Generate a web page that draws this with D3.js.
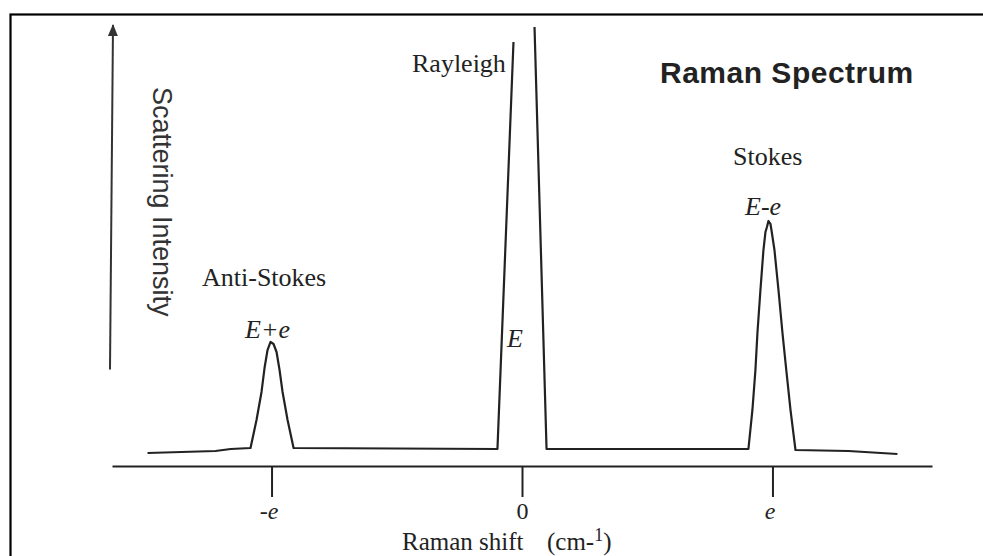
<!DOCTYPE html>
<html>
<head>
<meta charset="utf-8">
<script src="https://cdn.jsdelivr.net/npm/d3@7"></script>
<style>
  html, body { margin: 0; padding: 0; background: #fff; }
  svg { display: block; }
</style>
</head>
<body>
<svg id="chart" width="983" height="556"></svg>
<script>
// Raman shift in units of e, intensity in arbitrary units (0-100)
// Left branch: baseline, anti-Stokes peak, baseline, left arm of Rayleigh
const leftShift = [-1.495, -1.224, -1.163, -1.084, -1.060, -1.040, -1.028, -1.016, -1.004,
  -0.992, -0.980, -0.968, -0.956, -0.936, -0.912, -0.098, -0.034];
const leftIntensity = [2.96, 3.42, 3.87, 4.10, 10.48, 16.86, 22.32, 26.42, 28.25,
  27.79, 25.97, 21.87, 16.86, 10.48, 4.10, 3.87, 96.6];

// Right branch: right arm of Rayleigh, baseline, Stokes peak, tail
const rightShift = [0.050, 0.098, 0.904, 0.920, 0.932, 0.940, 0.952, 0.964, 0.972, 0.978,
  0.984, 0.992, 0.996, 1.008, 1.024, 1.040, 1.056, 1.072, 1.092, 1.303, 1.499];
const rightIntensity = [100, 3.87, 3.87, 12.76, 21.87, 30.30, 40.09, 49.20, 53.30, 54.44,
  55.81, 55.13, 53.76, 49.20, 40.09, 30.30, 21.41, 12.76, 3.64, 3.42, 2.73];

const tickValues = [-1, 0, 1];
const tickLabels = ['-e', '0', 'e'];
const tickItalic = [true, false, true];

const serif = '"Liberation Serif", "Times New Roman", serif';
const sans = '"Liberation Sans", Arial, sans-serif';
const ink = '#222';

const svg = d3.select('#chart');

const x = d3.scaleLinear().domain([-1.637, 1.637]).range([112, 932]);
const y = d3.scaleLinear().domain([0, 100]).range([466, 27]);

// frame border (runs off the right and bottom edges)
svg.append('rect')
    .attr('x', 10.5).attr('y', 14.5)
    .attr('width', 1000).attr('height', 600)
    .attr('fill', 'none')
    .attr('stroke', '#000')
    .attr('stroke-width', 2.2);

// x axis
const xAxis = d3.axisBottom(x)
    .tickValues(tickValues)
    .tickSize(31)
    .tickSizeOuter(0)
    .tickFormat((d, i) => tickLabels[i]);

const axisG = svg.append('g')
    .attr('transform', `translate(0,${y(0)})`)
    .call(xAxis);

axisG.select('.domain').attr('stroke', ink).attr('stroke-width', 2);
axisG.selectAll('.tick line').attr('stroke', ink).attr('stroke-width', 2);
axisG.selectAll('.tick text')
    .attr('y', 53)
    .attr('dy', 0)
    .attr('dx', (d, i) => (tickItalic[i] ? -3 : 0))
    .attr('fill', ink)
    .attr('font-family', serif)
    .attr('font-size', 24)
    .attr('font-style', (d, i) => (tickItalic[i] ? 'italic' : 'normal'));

// vertical arrow
svg.append('defs').append('marker')
    .attr('id', 'head')
    .attr('viewBox', '0 0 12 10')
    .attr('refX', 11).attr('refY', 5)
    .attr('markerWidth', 12).attr('markerHeight', 11)
    .attr('markerUnits', 'userSpaceOnUse')
    .attr('orient', 'auto')
    .append('path')
    .attr('d', 'M0,0 L12,5 L0,10 Z')
    .attr('fill', '#333');

svg.append('line')
    .attr('x1', x.range()[0] - 2).attr('y1', y(22))
    .attr('x2', x.range()[0] + 1).attr('y2', y(100.45))
    .attr('stroke', '#333')
    .attr('stroke-width', 2)
    .attr('marker-end', 'url(#head)');

// spectrum
const line = d3.line()
    .x(d => x(d[0]))
    .y(d => y(d[1]))
    .curve(d3.curveLinear);

[[leftShift, leftIntensity], [rightShift, rightIntensity]].forEach(([xs, ys]) => {
    svg.append('path')
        .datum(xs.map((v, i) => [v, ys[i]]))
        .attr('d', line)
        .attr('fill', 'none')
        .attr('stroke', ink)
        .attr('stroke-width', 2.2)
        .attr('stroke-linejoin', 'round');
});

// labels
svg.append('text')
    .attr('x', 660).attr('y', 83)
    .attr('font-family', sans)
    .attr('font-weight', 'bold')
    .attr('font-size', 30)
    .attr('letter-spacing', 0.5)
    .attr('fill', ink)
    .text('Raman Spectrum');

svg.append('text')
    .attr('transform', 'translate(153,87) rotate(90)')
    .attr('font-family', sans)
    .attr('font-size', 27)
    .attr('fill', '#333')
    .text('Scattering Intensity');

const serifLabel = (tx, ty, str, italic) => svg.append('text')
    .attr('x', tx).attr('y', ty)
    .attr('font-family', serif)
    .attr('font-size', 26)
    .attr('font-style', italic ? 'italic' : 'normal')
    .attr('fill', ink)
    .text(str);

serifLabel(412, 72, 'Rayleigh', false);
serifLabel(202, 286, 'Anti-Stokes', false);
serifLabel(733, 165, 'Stokes', false);
serifLabel(245, 338, 'E+e', true);
serifLabel(745, 215, 'E-e', true);
serifLabel(507, 347, 'E', true);

const xTitle = svg.append('text')
    .attr('x', 402).attr('y', 550)
    .attr('font-family', serif)
    .attr('font-size', 25)
    .attr('fill', ink);
xTitle.append('tspan').text('Raman shift');
xTitle.append('tspan').attr('x', 547).text('(cm-');
xTitle.append('tspan').attr('dy', -9).attr('font-size', 18).text('1');
xTitle.append('tspan').attr('dy', 9).text(')');
</script>
</body>
</html>
